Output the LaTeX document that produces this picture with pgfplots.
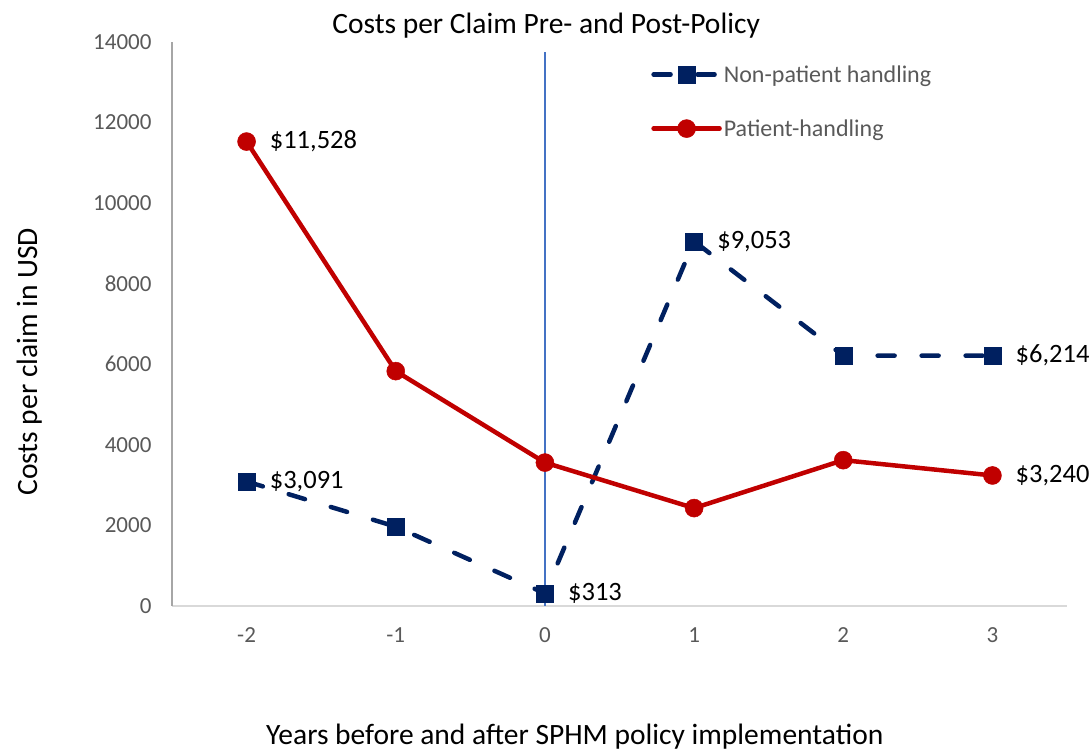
\documentclass[border=0pt]{standalone}
\usepackage{pgfplots}
\pgfplotsset{compat=1.18}
\usepackage{fontspec}
\setmainfont{Carlito}
\definecolor{navy}{HTML}{002060}
\definecolor{darkred}{HTML}{C00000}
\definecolor{ticgray}{HTML}{595959}
\definecolor{vline}{HTML}{4472C4}
\begin{document}
\begin{tikzpicture}
\useasboundingbox (0,0) rectangle (1092pt,751pt);
\begin{axis}[
  at={(172pt,145pt)}, anchor=south west,
  scale only axis, width=895pt, height=564pt,
  xmin=-2.5, xmax=3.5, ymin=0, ymax=14000,
  clip=false,
  xtick={-2,-1,0,1,2,3}, xticklabels={-2,-1,0,1,2,3},
  ytick={0,2000,4000,6000,8000,10000,12000,14000},
  scaled y ticks=false,
  /pgf/number format/1000 sep={},
  /pgf/number format/assume math mode=true,
  tick style={draw=none},
  axis x line*=bottom, axis y line*=left,
  x axis line style={draw=black!15, line width=1.5pt, -},
  y axis line style={draw=black!35, line width=1.5pt, -},
  ticklabel style={font=\fontsize{23}{27}\selectfont, text=ticgray},
  yticklabel style={xshift=-17pt},
  xticklabel style={yshift=-18pt},
  title={Costs per Claim Pre- and Post-Policy},
  title style={at={(axis description cs:0.418,1.019)}, anchor=center, font=\fontsize{29.5}{35}\selectfont},
  xlabel={Years before and after SPHM policy implementation},
  xlabel style={at={(axis description cs:0.45,-0.232)}, anchor=center, font=\fontsize{29.5}{35}\selectfont},
  ylabel={Costs per claim in USD},
  ylabel style={at={(axis description cs:-0.1595,0.433)}, anchor=center, font=\fontsize{29.5}{35}\selectfont},
  legend style={at={(axis description cs:0.532,0.966)}, anchor=north west, draw=none, fill=none,
    font=\fontsize{24}{29}\selectfont, text=ticgray, row sep=32pt},
  legend cell align=left,
  legend image code/.code={\draw[mark repeat=2,mark phase=2,#1] plot coordinates {(0pt,0pt) (33pt,0pt) (66pt,0pt)};},
  nodes near coords style={anchor=west, inner sep=0pt, xshift=23pt, font=\fontsize{26.5}{32}\selectfont, text=black},
]
\addplot[navy, line width=4.5pt, dash pattern=on 17pt off 27pt, line cap=round,
  mark=square*, mark size=8.5pt, mark options={solid, line width=0.5pt},
  nodes near coords, point meta=explicit symbolic]
  coordinates {(-2,3091) [\$3{,}091] (-1,1970) [] (0,313) [\$313] (1,9053) [\$9{,}053] (2,6214) [] (3,6214) [\$6{,}214]};
\addlegendentry{Non-patient handling}
\addplot[darkred, line width=4.5pt, line cap=round,
  mark=*, mark size=9pt, mark options={solid, line width=0.5pt},
  nodes near coords, point meta=explicit symbolic]
  coordinates {(-2,11528) [\$11{,}528] (-1,5830) [] (0,3560) [] (1,2430) [] (2,3620) [] (3,3240) [\$3{,}240]};
\addlegendentry{Patient-handling}
\addplot[vline, line width=1.2pt, forget plot] coordinates {(0,0) (0,13750)};
\end{axis}
\end{tikzpicture}
\end{document}
